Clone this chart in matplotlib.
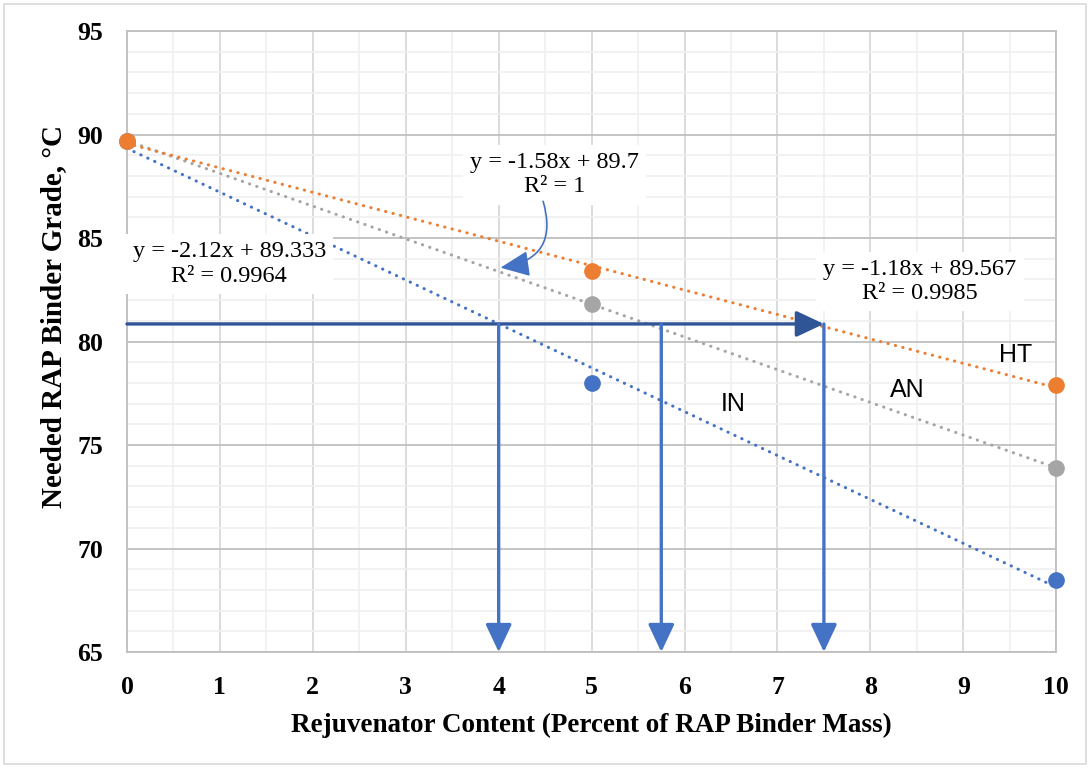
import numpy as np
import matplotlib
matplotlib.use('Agg')
import matplotlib.pyplot as plt
from matplotlib.patches import Rectangle, FancyArrowPatch

# Data
content = [0, 5, 10]
grade_ht = [89.7, 83.4, 77.9]
grade_an = [89.7, 81.8, 73.9]
grade_in = [89.7, 78.0, 68.5]

series_names = ['IN', 'AN', 'HT']
series_colors = {'IN': '#4472C4', 'AN': '#A5A5A5', 'HT': '#ED7D31'}
eq_texts = {
    'IN': 'y = -2.12x + 89.333\nR² = 0.9964',
    'AN': 'y = -1.58x + 89.7\nR² = 1',
    'HT': 'y = -1.18x + 89.567\nR² = 0.9985',
}

# Needed grade level and the rejuvenator contents it gives
target_grade = 80.85
target_contents = [4.0, 5.75, 7.5]

plt.rcParams['font.family'] = ['Liberation Serif', 'DejaVu Serif']

fig = plt.figure(figsize=(10.9, 7.68), dpi=100)
ax = fig.add_axes([0.1165, 0.151, 0.8525, 0.8086])

# Chart area border
fig.patches.append(Rectangle((0.004, 0.005), 0.992, 0.99, transform=fig.transFigure,
                             fill=False, edgecolor='#D9D9D9', linewidth=1.2))

data = {'IN': grade_in, 'AN': grade_an, 'HT': grade_ht}
xfit = np.array([0, 10])
for name in series_names:
    yv = data[name]
    slope, intercept = np.polyfit(content, yv, 1)
    col = series_colors[name]
    ax.plot(xfit, slope * xfit + intercept, color=col, linewidth=2.2,
            linestyle=(0, (0.1, 2.4)), dash_capstyle='round', zorder=3)
    ax.plot(content, yv, 'o', color=col, markersize=11, zorder=4, clip_on=False)

# Arrows reading off the needed content
head = '-|>,head_length=1.7,head_width=0.8'
ax.annotate('', xy=(target_contents[-1], target_grade), xytext=(0, target_grade),
            arrowprops=dict(arrowstyle=head, color='#2F5597', lw=2.4,
                            shrinkA=0, shrinkB=0), zorder=5)
for xc in target_contents:
    ax.annotate('', xy=(xc, 65), xytext=(xc, target_grade),
                arrowprops=dict(arrowstyle=head, color='#4472C4', lw=2.4,
                                shrinkA=0, shrinkB=0), zorder=5)

# Trendline equations
box = dict(boxstyle='square,pad=0.3', facecolor='white', edgecolor='none')
ax.text(4.6, 88.05, eq_texts['AN'], ha='center', va='center', fontsize=17.5,
        linespacing=1.2, bbox=box, zorder=6)
ax.text(1.1, 83.75, eq_texts['IN'], ha='center', va='center', fontsize=17.5,
        linespacing=1.2, bbox=box, zorder=6)
ax.text(8.53, 82.9, eq_texts['HT'], ha='center', va='center', fontsize=17.5,
        linespacing=1.2, bbox=box, zorder=6)

# Curved pointer from the AN equation to its line
curve = FancyArrowPatch((4.47, 86.9), (3.99, 83.55), connectionstyle='arc3,rad=-0.6',
                        arrowstyle='-|>,head_length=18,head_width=8', color='#4472C4',
                        lw=1.2, mutation_scale=1, zorder=6)
ax.add_patch(curve)

# Series labels
for name, (lx, ly) in {'HT': (9.56, 79.35), 'AN': (8.4, 77.65), 'IN': (6.52, 77.0)}.items():
    ax.text(lx, ly, name, ha='center', va='center', fontsize=18,
            family=['Liberation Sans', 'DejaVu Sans'], zorder=6)

ax.set_xlim(0, 10)
ax.set_ylim(65, 95)
ax.set_xticks(range(0, 11))
ax.set_yticks(range(65, 96, 5))
ax.set_xticks(np.arange(0, 10.01, 0.5), minor=True)
ax.set_yticks(range(65, 96), minor=True)
ax.grid(which='major', axis='y', color='#BFBFBF', linewidth=1.3, zorder=0)
ax.grid(which='major', axis='x', color='#D9D9D9', linewidth=1.3, zorder=0)
ax.grid(which='minor', color='#F0F0F0', linewidth=1.2, zorder=0)
ax.set_axisbelow(True)
ax.tick_params(which='both', length=0)
ax.tick_params(axis='x', pad=17)
ax.tick_params(axis='y', pad=17)
for lab in ax.get_xticklabels() + ax.get_yticklabels():
    lab.set_fontweight('bold')
    lab.set_fontsize(18.5)
for sp in ax.spines.values():
    sp.set_color('#BFBFBF')
    sp.set_linewidth(1.3)

ax.set_xlabel('Rejuvenator Content (Percent of RAP Binder Mass)', fontsize=19.5,
              fontweight='bold', labelpad=10)
ax.set_ylabel('Needed RAP Binder Grade, °C', fontsize=21, fontweight='bold')
ax.yaxis.set_label_coords(-0.064, 0.54)

fig.savefig('out.png', dpi=100)
